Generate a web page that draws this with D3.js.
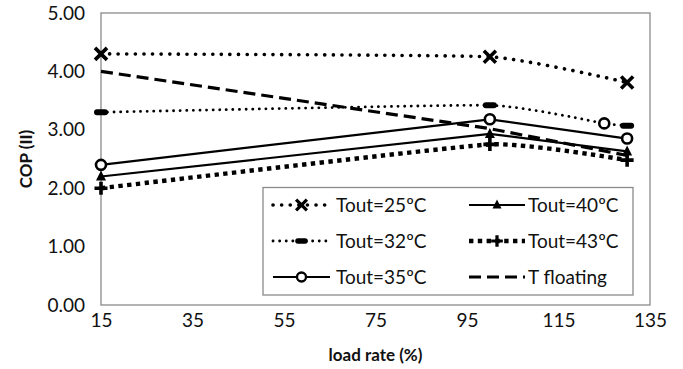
<!DOCTYPE html>
<html><head><meta charset="utf-8">
<script src="https://cdn.jsdelivr.net/npm/d3@7"></script>
<style>body{margin:0;background:#fff}svg{display:block}text{font-family:Lato,"Open Sans",sans-serif;fill:#111}</style>
</head><body>
<svg id="c" width="683" height="369"></svg>
<script>
const xTicks=[15,35,55,75,95,115,135];
const yTicks=[0,1,2,3,4,5];
const seriesNames=["Tout=25ºC","Tout=32ºC","Tout=35ºC","Tout=40ºC","Tout=43ºC","T floating"];
const x25=[15,100,130], y25=[4.30,4.25,3.81];
const x32=[15,100,125,130], y32=[3.30,3.42,3.11,3.07];
const x35=[15,100,130], y35=[2.40,3.18,2.85];
const x40=[15,100,130], y40=[2.20,2.93,2.63];
const x43=[15,100,130], y43=[2.00,2.75,2.48];
const xTF=[15,100,130], yTF=[4.00,3.02,2.56];
const extraCircleX=[125], extraCircleY=[3.11];

const svg=d3.select("#c");
const m={l:101,r:650,t:13,b:305};
const x=d3.scaleLinear().domain([15,135]).range([m.l,m.r]);
const y=d3.scaleLinear().domain([0,5]).range([m.b,m.t]);

svg.append("rect").attr("x",m.l).attr("y",m.t).attr("width",m.r-m.l).attr("height",m.b-m.t)
  .attr("fill","none").attr("stroke","#8a8a8a").attr("stroke-width",1.3);

const yAxis=d3.axisLeft(y).tickValues(yTicks).tickFormat(d3.format(".2f")).tickSize(0).tickPadding(16);
const gy=svg.append("g").attr("transform",`translate(${m.l},0)`).call(yAxis);
gy.select(".domain").remove();
gy.selectAll("text").attr("font-size",19).attr("font-family","Lato");
const xAxis=d3.axisBottom(x).tickValues(xTicks).tickSize(0).tickPadding(9);
const gx=svg.append("g").attr("transform",`translate(0,${m.b})`).call(xAxis);
gx.select(".domain").remove();
gx.selectAll("text").attr("font-size",19).attr("font-family","Lato");

svg.append("text").attr("x",(m.l+m.r)/2).attr("y",361).attr("text-anchor","middle")
  .attr("font-size",17).attr("font-weight","bold").text("load rate (%)");
svg.append("text").attr("transform",`translate(32,${(m.t+m.b)/2}) rotate(-90)`).attr("text-anchor","middle")
  .attr("font-size",17).attr("font-weight","bold").text("COP (II)");

const styles=[
 {xs:x25,ys:y25,w:3.6,dash:"0.1 8.5",cap:"round",marker:"x",curve:true},
 {xs:x32,ys:y32,w:2.8,dash:"0.1 6.5",cap:"round",marker:"dash",curve:true},
 {xs:x35,ys:y35,w:2.2,dash:null,cap:"butt",marker:"circle",curve:false},
 {xs:x40,ys:y40,w:2.2,dash:null,cap:"butt",marker:"tri",curve:false},
 {xs:x43,ys:y43,w:4.4,dash:"4.4 4.4",cap:"butt",marker:"plus",curve:true},
 {xs:xTF,ys:yTF,w:3.2,dash:"12 6",cap:"butt",marker:null,curve:false}
];

function drawMarker(g,type,cx,cy,scale){
  const s=scale||1;
  if(type==="x"){
    const r=6*s;
    g.append("path").attr("d",`M${cx-r},${cy-r}L${cx+r},${cy+r}M${cx-r},${cy+r}L${cx+r},${cy-r}`)
     .attr("stroke","#000").attr("stroke-width",3.6*s).attr("fill","none");
  } else if(type==="dash"){
    g.append("rect").attr("x",cx-7*s).attr("y",cy-3*s).attr("width",14*s).attr("height",6*s).attr("rx",3*s)
     .attr("fill","#000");
  } else if(type==="circle"){
    g.append("circle").attr("cx",cx).attr("cy",cy).attr("r",5*s).attr("fill","#fff")
     .attr("stroke","#000").attr("stroke-width",2.6*s);
  } else if(type==="tri"){
    const r=5*s;
    g.append("path").attr("d",`M${cx},${cy-r*1.2}L${cx+r},${cy+r*0.8}L${cx-r},${cy+r*0.8}Z`).attr("fill","#000");
  } else if(type==="plus"){
    const r=6.5*s;
    g.append("path").attr("d",`M${cx-r},${cy}L${cx+r},${cy}M${cx},${cy-r}L${cx},${cy+r}`)
     .attr("stroke","#000").attr("stroke-width",3.6*s).attr("fill","none");
  }
}

const gl=svg.append("g");
styles.forEach(st=>{
  const pts=st.xs.map((v,i)=>[x(v),y(st.ys[i])]);
  const line=d3.line().curve(st.curve?d3.curveCardinal.tension(0.6):d3.curveLinear);
  gl.append("path").attr("d",line(pts)).attr("fill","none").attr("stroke","#000")
    .attr("stroke-width",st.w).attr("stroke-dasharray",st.dash).attr("stroke-linecap",st.cap);
});
styles.forEach(st=>{
  if(!st.marker) return;
  st.xs.forEach((v,i)=>{
    if(st.marker==="dash" && v===125) return;
    drawMarker(gl,st.marker,x(v),y(st.ys[i]));
  });
});
extraCircleX.forEach((v,i)=>drawMarker(gl,"circle",x(v),y(extraCircleY[i])));

const lg=svg.append("g");
lg.append("rect").attr("x",263).attr("y",187.5).attr("width",370).attr("height",107.5)
  .attr("fill","#fff").attr("stroke","#8a8a8a").attr("stroke-width",1.3);
const rowsY=[205,241,277];
const cols=[{x0:273,x1:330,tx:336},{x0:469,x1:525,tx:528}];
styles.forEach((st,i)=>{
  const c=cols[Math.floor(i/3)], yy=rowsY[i%3];
  lg.append("line").attr("x1",c.x0).attr("x2",c.x1).attr("y1",yy).attr("y2",yy)
    .attr("stroke","#000").attr("stroke-width",st.w).attr("stroke-dasharray",st.dash).attr("stroke-linecap",st.cap);
  if(st.marker) drawMarker(lg,st.marker,(c.x0+c.x1)/2,yy,0.9);
  lg.append("text").attr("x",c.tx).attr("y",yy).attr("dy","0.36em").attr("font-size",19).text(seriesNames[i]);
});
</script>
</body></html>
